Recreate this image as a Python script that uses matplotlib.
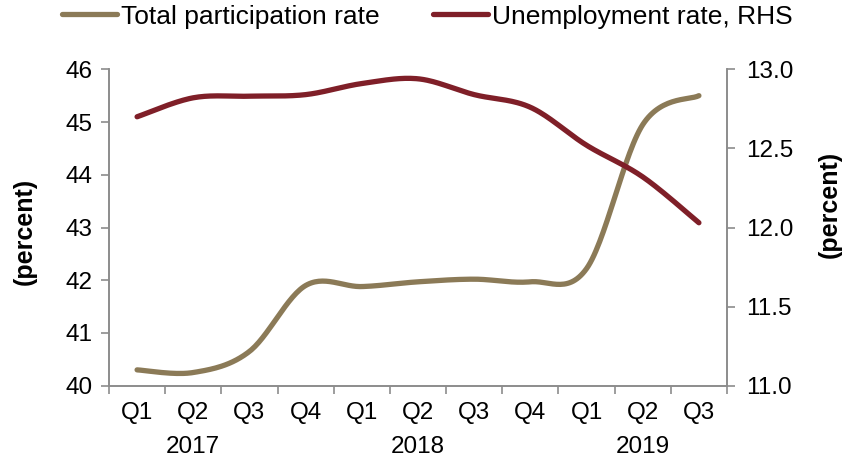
import numpy as np
import matplotlib
matplotlib.use("Agg")
import matplotlib.pyplot as plt

plt.rcParams['font.family'] = ['Liberation Sans', 'DejaVu Sans']

quarters = ['Q1', 'Q2', 'Q3', 'Q4', 'Q1', 'Q2', 'Q3', 'Q4', 'Q1', 'Q2', 'Q3']
years = ['2017', '2018', '2019']
year_pos = [1, 5, 9]  # under which quarter the year label sits

participation = [40.30, 40.25, 40.65, 41.90, 41.88, 41.97, 42.02, 41.97, 42.22, 44.95, 45.50]
unemployment = [12.70, 12.82, 12.83, 12.84, 12.91, 12.94, 12.84, 12.76, 12.52, 12.32, 12.03]

col_part = '#8B7A57'
col_unemp = '#7F1F28'
grey = '#8C8C8C'


def smooth(xs, ys, n=30):
    # Catmull-Rom spline through the points, like Excel's smoothed line
    xs = np.asarray(xs, float)
    ys = np.asarray(ys, float)
    px = np.concatenate([[xs[0]], xs, [xs[-1]]])
    py = np.concatenate([[ys[0]], ys, [ys[-1]]])
    out_x, out_y = [], []
    t = np.linspace(0, 1, n, endpoint=False)
    for i in range(1, len(px) - 2):
        for p, out in ((px, out_x), (py, out_y)):
            p0, p1, p2, p3 = p[i - 1], p[i], p[i + 1], p[i + 2]
            out.extend(0.5 * ((2 * p1) + (-p0 + p2) * t
                              + (2 * p0 - 5 * p1 + 4 * p2 - p3) * t ** 2
                              + (-p0 + 3 * p1 - 3 * p2 + p3) * t ** 3))
    out_x.append(xs[-1])
    out_y.append(ys[-1])
    return np.array(out_x), np.array(out_y)


fig = plt.figure(figsize=(8.43, 4.59), dpi=100)
ax = fig.add_axes([0.1293, 0.1597, 0.7331, 0.6893])
ax2 = ax.twinx()

x = np.arange(len(quarters))
sx, sy = smooth(x, participation)
l1, = ax.plot(sx, sy, color=col_part, lw=3.8, solid_capstyle='round',
              label='Total participation rate')
sx2, sy2 = smooth(x, unemployment)
l2, = ax2.plot(sx2, sy2, color=col_unemp, lw=3.8, solid_capstyle='round',
               label='Unemployment rate, RHS')

ax.set_xlim(-0.5, len(quarters) - 0.5)
ax.set_ylim(40, 46)
ax2.set_ylim(11.0, 13.0)
ax.set_yticks(range(40, 47))
ax2.set_yticks([11.0, 11.5, 12.0, 12.5, 13.0])
ax2.set_yticklabels(['11.0', '11.5', '12.0', '12.5', '13.0'])

# quarter labels at centres, tick marks at boundaries
ax.set_xticks(x)
ax.set_xticklabels(quarters)
ax.set_xticks(np.arange(-0.5, len(quarters)), minor=True)
ax.tick_params(axis='x', which='major', length=0, pad=12, labelsize=17.5)
ax.tick_params(axis='x', which='minor', length=6, width=1.2, color=grey,
               direction='out')
for pos, yr in zip(year_pos, years):
    ax.text(pos, -0.158, yr, transform=ax.get_xaxis_transform(),
            ha='center', va='top', fontsize=17.5)

ax.tick_params(axis='y', length=6, width=1.2, color=grey, labelsize=17.5, pad=6)
ax2.tick_params(axis='y', length=6, width=1.2, color=grey, labelsize=17.5, pad=8)

for a in (ax, ax2):
    a.spines['top'].set_visible(False)
    for s in ('left', 'right', 'bottom'):
        a.spines[s].set_color(grey)
        a.spines[s].set_linewidth(1.2)

ax.set_ylabel('(percent)', fontsize=18, fontweight='bold')
ax.yaxis.set_label_coords(-0.1165, 0.486)
ax2.set_ylabel('(percent)', fontsize=18, fontweight='bold', rotation=90)
ax2.yaxis.set_label_coords(1.147, 0.574)

fig.legend(handles=[l1, l2], loc='upper left', bbox_to_anchor=(62 / 843, 0.99),
           ncol=2, frameon=False, fontsize=19, handlelength=2.1,
           handletextpad=0.15, columnspacing=2.0, borderpad=0,
           borderaxespad=0)

fig.savefig('out.png', dpi=100)
